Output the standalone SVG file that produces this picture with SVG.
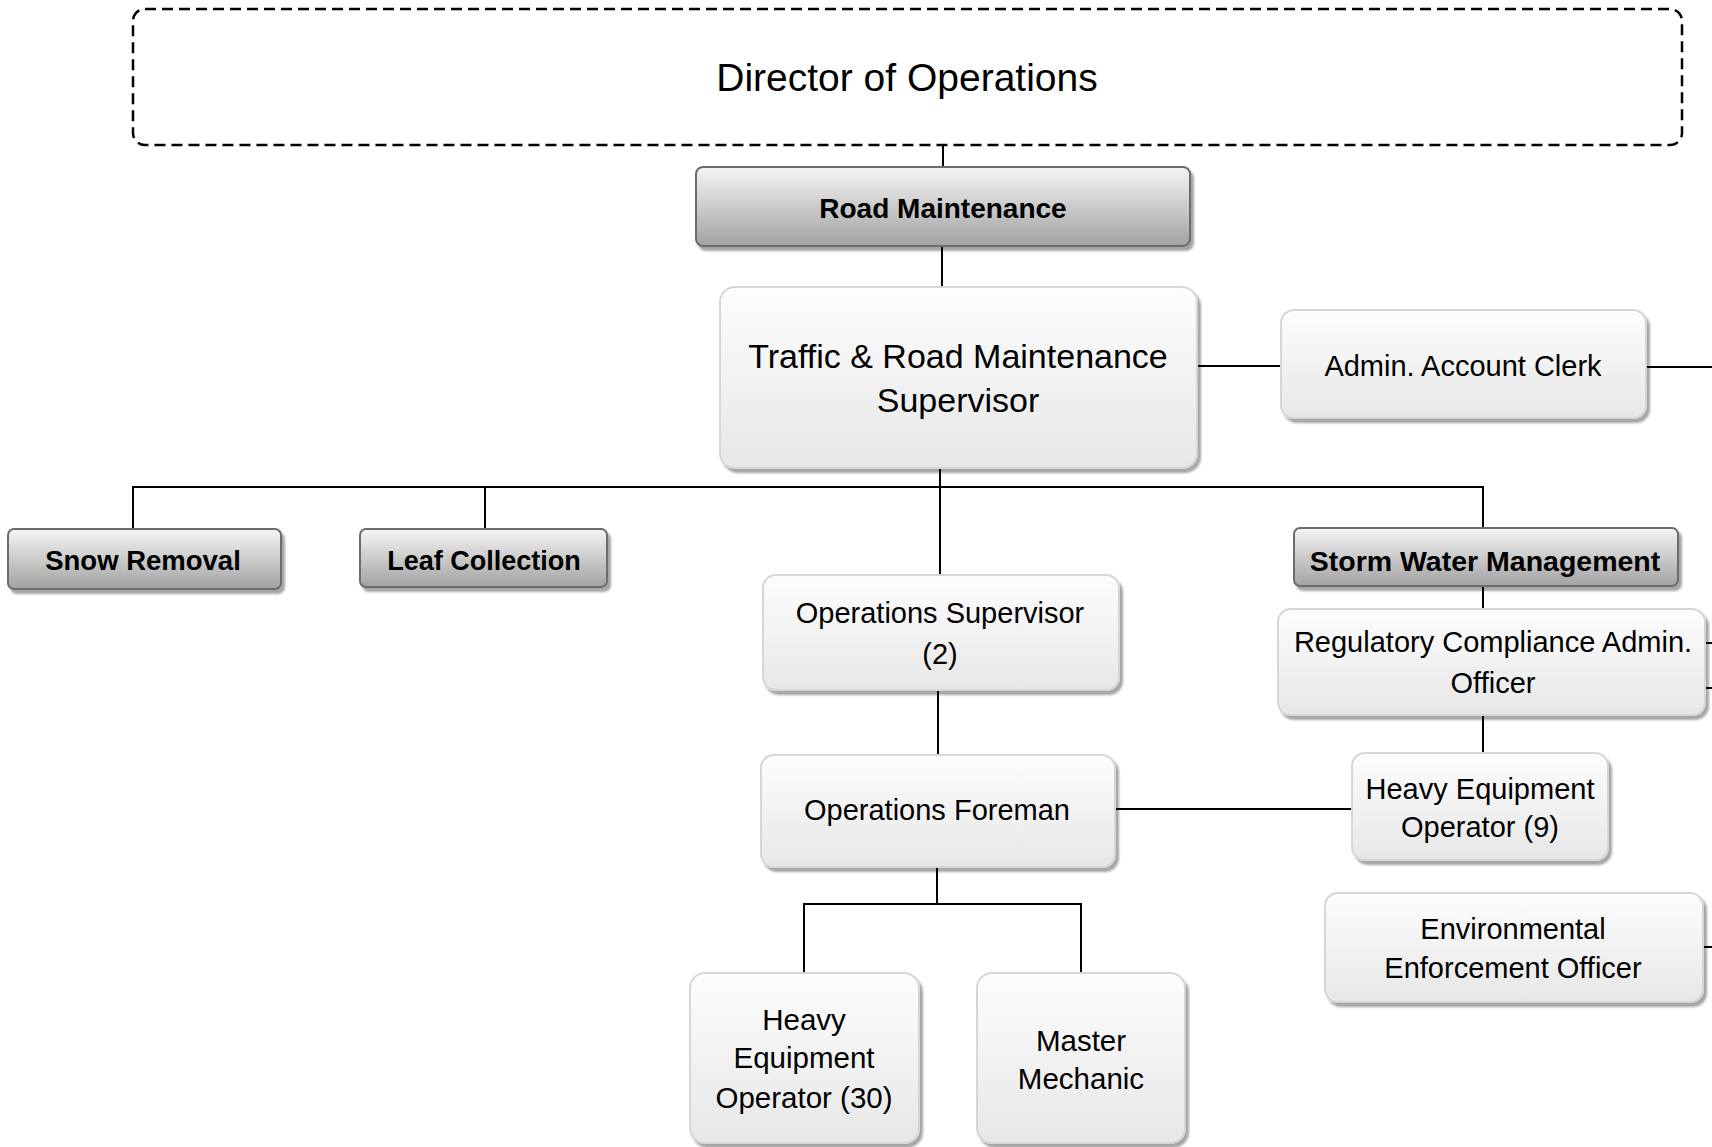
<svg xmlns="http://www.w3.org/2000/svg" width="1712" height="1147" viewBox="0 0 1712 1147">
<defs>
<linearGradient id="gPos" x1="0" y1="0" x2="0" y2="1">
<stop offset="0" stop-color="#fdfdfd"/>
<stop offset="1" stop-color="#e7e7e7"/>
</linearGradient>
<linearGradient id="gHead" x1="0" y1="0" x2="0" y2="1">
<stop offset="0" stop-color="#f5f5f5"/>
<stop offset="1" stop-color="#a2a2a2"/>
</linearGradient>
<filter id="sh" x="-5%" y="-10%" width="115%" height="130%">
<feDropShadow dx="3" dy="4" stdDeviation="1.2" flood-color="#000" flood-opacity="0.35"/>
</filter>
</defs>
<style>
.pos{fill:url(#gPos);stroke:#d6d6d6;stroke-width:2;filter:url(#sh)}
.head{fill:url(#gHead);stroke:#6c6c6c;stroke-width:2;filter:url(#sh)}
.t{font-family:"Liberation Sans",Arial,sans-serif;fill:#000;text-anchor:middle}
.b{font-family:"Liberation Sans",Arial,sans-serif;font-weight:bold;fill:#000;text-anchor:middle}
.c{fill:none;stroke:#000;stroke-width:2}
</style>
<rect width="1712" height="1147" fill="#fff"/>
<g id="connectors">
<path class="c" d="M943 145V167"/>
<path class="c" d="M942 246V287"/>
<path class="c" d="M940 468V575"/>
<path class="c" d="M133 529V487H1483V528"/>
<path class="c" d="M485 487V529"/>
<path class="c" d="M1483 586V609"/>
<path class="c" d="M1483 715V753"/>
<path class="c" d="M1197 366H1281"/>
<path class="c" d="M1646 367H1712"/>
<path class="c" d="M1705 643H1712"/>
<path class="c" d="M1705 688H1712"/>
<path class="c" d="M1703 947H1712"/>
<path class="c" d="M938 690V755"/>
<path class="c" d="M1115 809H1352"/>
<path class="c" d="M937 867V904"/>
<path class="c" d="M804 973V904H1081V973"/>
</g>
<g id="director">
<rect x="133" y="9" width="1549" height="136" rx="12" fill="none" stroke="#000" stroke-width="2.5" stroke-dasharray="11,6"/>
<text class="t" x="907" y="91" font-size="39">Director of Operations</text>
</g>
<g id="road-maintenance">
<rect class="head" x="696" y="167" width="494" height="79" rx="7"/>
<text class="b" x="943" y="218" font-size="28">Road Maintenance</text>
</g>
<g id="traffic-supervisor">
<rect class="pos" x="720" y="287" width="477" height="181" rx="15"/>
<text class="t" x="958" y="368" font-size="34">Traffic &amp; Road Maintenance</text>
<text class="t" x="958" y="412" font-size="34">Supervisor</text>
</g>
<g id="admin-clerk">
<rect class="pos" x="1281" y="310" width="365" height="108" rx="13"/>
<text class="t" x="1463" y="376" font-size="29">Admin. Account Clerk</text>
</g>
<g id="snow-removal">
<rect class="head" x="8" y="529" width="273" height="60" rx="6"/>
<text class="b" x="143" y="570" font-size="27.5">Snow Removal</text>
</g>
<g id="leaf-collection">
<rect class="head" x="360" y="529" width="247" height="58" rx="6"/>
<text class="b" x="484" y="570" font-size="27">Leaf Collection</text>
</g>
<g id="storm-water">
<rect class="head" x="1294" y="528" width="384" height="58" rx="6"/>
<text class="b" x="1485" y="571" font-size="28.5">Storm Water Management</text>
</g>
<g id="regulatory-officer">
<rect class="pos" x="1278" y="609" width="427" height="106" rx="13"/>
<text class="t" x="1493" y="652" font-size="29">Regulatory Compliance Admin.</text>
<text class="t" x="1493" y="693" font-size="29">Officer</text>
</g>
<g id="operations-supervisor">
<rect class="pos" x="763" y="575" width="356" height="115" rx="13"/>
<text class="t" x="940" y="623" font-size="29">Operations Supervisor</text>
<text class="t" x="940" y="664" font-size="29">(2)</text>
</g>
<g id="operations-foreman">
<rect class="pos" x="761" y="755" width="354" height="112" rx="13"/>
<text class="t" x="937" y="820" font-size="29">Operations Foreman</text>
</g>
<g id="heavy-equipment-9">
<rect class="pos" x="1352" y="753" width="256" height="107" rx="13"/>
<text class="t" x="1480" y="799" font-size="29">Heavy Equipment</text>
<text class="t" x="1480" y="837" font-size="29">Operator (9)</text>
</g>
<g id="environmental-officer">
<rect class="pos" x="1325" y="893" width="378" height="109" rx="13"/>
<text class="t" x="1513" y="939" font-size="29">Environmental</text>
<text class="t" x="1513" y="978" font-size="29">Enforcement Officer</text>
</g>
<g id="heavy-equipment-30">
<rect class="pos" x="690" y="973" width="229" height="170" rx="15"/>
<text class="t" x="804" y="1030" font-size="29.5">Heavy</text>
<text class="t" x="804" y="1068" font-size="29.5">Equipment</text>
<text class="t" x="804" y="1108" font-size="29.5">Operator (30)</text>
</g>
<g id="master-mechanic">
<rect class="pos" x="977" y="973" width="208" height="170" rx="15"/>
<text class="t" x="1081" y="1051" font-size="29.5">Master</text>
<text class="t" x="1081" y="1089" font-size="29.5">Mechanic</text>
</g>
</svg>
